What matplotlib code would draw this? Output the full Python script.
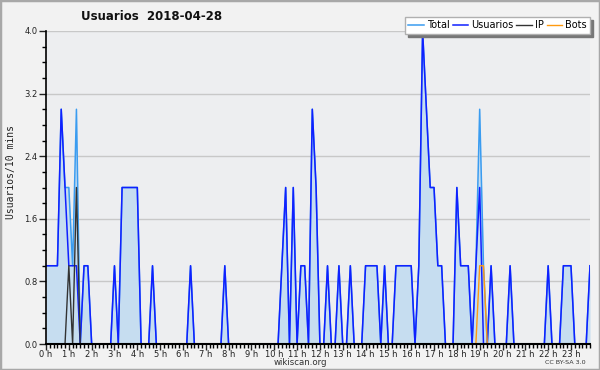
import numpy as np
import matplotlib.pyplot as plt
from matplotlib.ticker import MultipleLocator, FixedLocator, FormatStrFormatter
from matplotlib.patches import Rectangle

# usuarios cada 10 minutos (6 valores por hora)
usuarios = [
    1, 1, 1, 1, 3, 2,   # 0 h
    1, 1, 1, 0, 1, 1,   # 1 h
    0, 0, 0, 0, 0, 0,   # 2 h
    1, 0, 2, 2, 2, 2,   # 3 h
    2, 0, 0, 0, 1, 0,   # 4 h
    0, 0, 0, 0, 0, 0,   # 5 h
    0, 0, 1, 0, 0, 0,   # 6 h
    0, 0, 0, 0, 0, 1,   # 7 h
    0, 0, 0, 0, 0, 0,   # 8 h
    0, 0, 0, 0, 0, 0,   # 9 h
    0, 0, 1, 2, 0, 2,   # 10 h
    0, 1, 1, 0, 3, 2,   # 11 h
    0, 0, 1, 0, 0, 1,   # 12 h
    0, 0, 1, 0, 0, 0,   # 13 h
    1, 1, 1, 1, 0, 1,   # 14 h
    0, 0, 1, 1, 1, 1,   # 15 h
    1, 0, 1, 4, 3, 2,   # 16 h
    2, 1, 1, 0, 0, 0,   # 17 h
    2, 1, 1, 1, 0, 1,   # 18 h
    2, 0, 0, 1, 0, 0,   # 19 h
    0, 0, 1, 0, 0, 0,   # 20 h
    0, 0, 0, 0, 0, 0,   # 21 h
    1, 0, 0, 0, 1, 1,   # 22 h
    1, 0, 0, 0, 0, 1,   # 23 h
]
ip = [0] * 144
ip[6] = 1
ip[8] = 2
bots = [0] * 144
bots[114] = 1
bots[115] = 1

horas = ['%d h' % h for h in range(24)]

usuarios = np.array(usuarios)
ip = np.array(ip)
bots = np.array(bots)
total = usuarios + ip + bots
x = np.arange(len(total))

fig = plt.figure(figsize=(6, 3.7), dpi=100, facecolor='#f2f2f2')
fig.patches.append(Rectangle((0, 0), 1, 1, transform=fig.transFigure, fill=False,
                             edgecolor='#a8a8a8', lw=2.5))
ax = fig.add_axes([46 / 600, 26 / 370, 544 / 600, 313 / 370])
ax.set_facecolor('#edeef0')

ax.fill_between(x, 0, total, color='#c6ddf0', lw=0)
ax.plot(x, total, color='#3a9cf0', lw=1.1, label='Total')
ax.plot(x, usuarios, color='#1020ff', lw=1.1, label='Usuarios')
ax.plot(x, ip, color='#333333', lw=1.0, label='IP')
ax.plot(x, bots, color='#ff9a10', lw=1.0, label='Bots')

ax.set_xlim(0, 143)
ax.set_ylim(0, 4.0)
ax.yaxis.set_major_locator(MultipleLocator(0.8))
ax.yaxis.set_minor_locator(MultipleLocator(0.2))
ax.yaxis.set_major_formatter(FormatStrFormatter('%.1f'))
ax.xaxis.set_major_locator(FixedLocator(np.arange(0, 144, 6)))
ax.xaxis.set_minor_locator(MultipleLocator(1))
ax.set_xticklabels(horas)
ax.grid(axis='y', color='#c8c8c8', lw=1)
ax.set_axisbelow(True)

for s in ['top', 'right']:
    ax.spines[s].set_visible(False)
ax.spines['left'].set_linewidth(1.2)
ax.spines['bottom'].set_linewidth(1.5)
ax.tick_params(axis='x', which='major', length=4, width=1, labelsize=6, pad=0, colors='#222222')
ax.tick_params(axis='x', which='minor', length=3, width=1)
ax.tick_params(axis='y', which='major', length=5, width=1, labelsize=6, pad=1, colors='#222222')
ax.tick_params(axis='y', which='minor', length=3, width=1)

fig.text(0.253, 0.955, 'Usuarios  2018-04-28', ha='center', va='center',
         fontsize=8.5, fontweight='bold', color='#111111')
fig.text(0.018, 0.535, 'Usuarios/10 mins', rotation=90, ha='center', va='center',
         fontsize=7, family='DejaVu Sans Mono', color='#222222')
fig.text(0.5, 0.021, 'wikiscan.org', ha='center', va='center', fontsize=6.2, color='#333333')
fig.text(0.942, 0.019, 'CC BY-SA 3.0', ha='center', va='center', fontsize=4.6, color='#333333')

leg = ax.legend(ncol=4, loc='upper right', bbox_to_anchor=(590 / 600, 1 - 17 / 370),
                bbox_transform=fig.transFigure, fontsize=7, frameon=True, fancybox=False,
                shadow={'color': '#777777', 'alpha': 1}, borderpad=0.35, handlelength=1.6,
                handletextpad=0.3, columnspacing=0.3, borderaxespad=0)
leg.get_frame().set_edgecolor('#b0b0b0')
leg.get_frame().set_facecolor('white')

fig.savefig('out.png', dpi=100, facecolor=fig.get_facecolor())
